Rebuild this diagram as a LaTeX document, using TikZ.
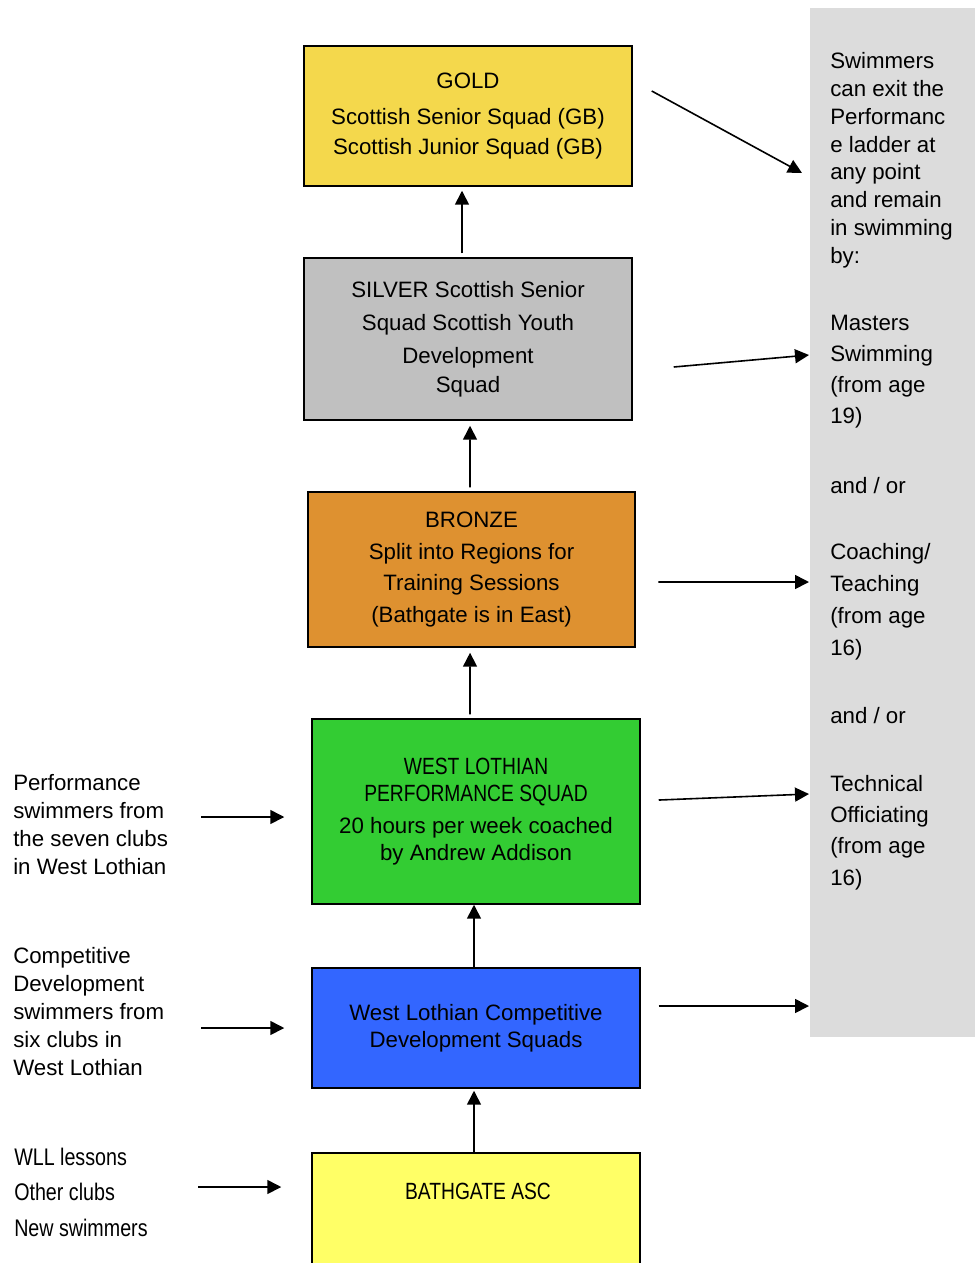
\documentclass[tikz,border=0pt]{standalone}
\usepackage{fontspec}
\setmainfont{Liberation Sans}
\newfontfamily\narrowfont[FakeStretch=0.82]{Liberation Sans}
\usetikzlibrary{arrows.meta}
\definecolor{goldc}{RGB}{244,216,76}
\definecolor{silverc}{RGB}{192,192,192}
\definecolor{bronzec}{RGB}{222,145,48}
\definecolor{greenc}{RGB}{51,204,51}
\definecolor{bluec}{RGB}{51,102,255}
\definecolor{bathc}{RGB}{255,255,102}
\definecolor{panelc}{RGB}{220,220,220}
\begin{document}
\begin{tikzpicture}[x=0.75pt,y=-0.75pt,
  box/.style={draw=black, line width=1.1pt, align=center, inner sep=0pt, minimum width=246pt},
  arr/.style={-{Triangle[length=10.5pt,width=10.5pt]}, line width=1.2pt},
  txt/.style={anchor=base west, align=left, inner sep=0pt},
]
\useasboundingbox (0,0) rectangle (975,1263);
% right panel
\node[fill=panelc, inner sep=0pt, minimum width=123.75pt, minimum height=771.75pt] (panel) at (892.5,522.5) {};
% ladder boxes
\node[box, fill=goldc, minimum height=105pt, font=\fontsize{16.7}{22.5}\selectfont] (gold) at (468,116)
  {GOLD\\[5pt]Scottish Senior Squad (GB)\\Scottish Junior Squad (GB)};
\node[box, fill=silverc, minimum height=121.5pt, font=\fontsize{16.7}{21.75}\selectfont] (silver) at (468,339)
  {SILVER Scottish Senior\\[3pt]Squad Scottish Youth\\[3pt]Development\\Squad};
\node[box, fill=bronzec, minimum width=245.25pt, minimum height=116.25pt, font=\fontsize{16.7}{23.6}\selectfont] (bronze) at (471.5,569.5)
  {BRONZE\\Split into Regions for\\Training Sessions\\(Bathgate is in East)};
\node[box, fill=greenc, minimum height=138.75pt, font=\fontsize{16.7}{20.25}\selectfont] (green) at (476,811.5)
  {{\narrowfont\fontsize{17.6}{20.25}\selectfont WEST LOTHIAN}\\{\narrowfont\fontsize{17.6}{20.25}\selectfont PERFORMANCE SQUAD}\\[3.75pt]20 hours per week coached\\by Andrew Addison};
\node[box, fill=bluec, minimum height=90pt, font=\fontsize{16.7}{20.25}\selectfont] (blue) at (476,1028)
  {West Lothian Competitive\\Development Squads};
\node[box, fill=bathc, minimum height=95.25pt] (bath) at (476,1216.5) {};
\node[font=\narrowfont\fontsize{17.6}{20}\selectfont, inner sep=0pt] (bathtxt) at (478,1191) {BATHGATE ASC};
% vertical arrows
\draw[arr, shorten >=3pt] ([xshift=-4.5pt,yshift=3pt]silver.north) -- ([xshift=-4.5pt]gold.south);
\draw[arr, shorten >=3.75pt] ([xshift=-1.1pt,yshift=3pt]bronze.north) -- ([xshift=1.5pt]silver.south);
\draw[arr, shorten >=3.75pt] ([xshift=-4.5pt,yshift=3pt]green.north) -- ([xshift=-1.1pt]bronze.south);
\draw[arr] ([xshift=-1.5pt]blue.north) -- ([xshift=-1.5pt]green.south);
\draw[arr, shorten >=1.5pt] ([xshift=-1.5pt]bath.north) -- ([xshift=-1.5pt]blue.south);
% right exit arrows
\coordinate (e1) at (802,173);
\coordinate (e2) at (809,355);
\coordinate (e3) at (809,582);
\coordinate (e4) at (809,794);
\coordinate (e5) at (809,1006);
\draw[arr] ([xshift=14.25pt,yshift=18.75pt]gold.east) -- (e1);
\draw[arr] ([xshift=30.75pt,yshift=-21pt]silver.east) -- (e2);
\draw[arr] ([xshift=16.9pt,yshift=-9.4pt]bronze.east) -- (e3);
\draw[arr] ([xshift=13.5pt,yshift=8.6pt]green.east) -- (e4);
\draw[arr] ([xshift=13.5pt,yshift=16.5pt]blue.east) -- (e5);
% left entry arrows
\coordinate (s1) at (201,817);
\coordinate (s2) at (201,1028);
\coordinate (s3) at (198,1187);
\draw[arr, shorten >=20.25pt] (s1) -- (s1 -| green.west);
\draw[arr, shorten >=20.25pt] (s2) -- (s2 -| blue.west);
\draw[arr, shorten >=22.5pt] (s3) -- (s3 -| bath.west);
% right panel texts (anchored at the baseline of the last line)
\node[txt, font=\fontsize{16.7}{20.8}\selectfont] (exit) at (830,263)
  {Swimmers\\can exit the\\Performanc\\e ladder at\\any point\\and remain\\in swimming\\by:};
\node[txt, font=\fontsize{16.7}{23.25}\selectfont] (masters) at (830,423)
  {Masters\\Swimming\\(from age\\19)};
\node[txt, font=\fontsize{16.7}{23}\selectfont] (andor1) at (830,493) {and / or};
\node[txt, font=\fontsize{16.7}{23.8}\selectfont] (coach) at (830,655)
  {Coaching/\\Teaching\\(from age\\16)};
\node[txt, font=\fontsize{16.7}{23}\selectfont] (andor2) at (830,723) {and / or};
\node[txt, font=\fontsize{16.7}{23.5}\selectfont] (tech) at (830,885)
  {Technical\\Officiating\\(from age\\16)};
% left texts
\node[txt, font=\fontsize{16.7}{21}\selectfont] (perf) at (13,874)
  {Performance\\swimmers from\\the seven clubs\\in West Lothian};
\node[txt, font=\fontsize{16.7}{21}\selectfont] (comp) at (13,1075)
  {Competitive\\Development\\swimmers from\\six clubs in\\West Lothian};
\node[txt, font=\narrowfont\fontsize{18}{26.6}\selectfont] (entry) at (14,1236)
  {WLL lessons\\Other clubs\\New swimmers};
\end{tikzpicture}
\end{document}
